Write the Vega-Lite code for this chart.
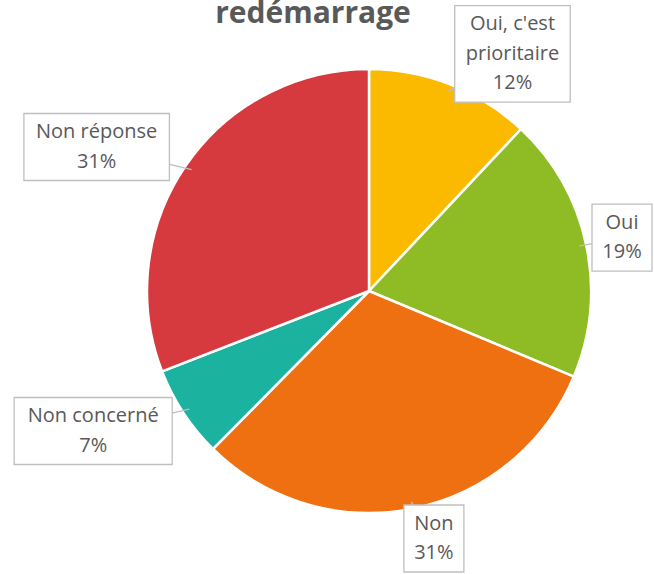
{
  "$schema": "https://vega.github.io/schema/vega-lite/v6.json",
  "width": 654,
  "height": 574,
  "autosize": "none",
  "padding": 0,
  "title": {
    "text": "redémarrage",
    "font": "Open Sans",
    "fontSize": 30,
    "fontWeight": "bold",
    "color": "#595959",
    "anchor": "middle",
    "frame": "group",
    "baseline": "alphabetic",
    "offset": -25,
    "dy": 28,
    "dx": -14
  },
  "data": {
    "values": [
      {"o": 1, "cat": "Oui, c'est prioritaire", "value": 12.0},
      {"o": 2, "cat": "Oui", "value": 19.3},
      {"o": 3, "cat": "Non", "value": 31.1},
      {"o": 4, "cat": "Non concerné", "value": 6.7},
      {"o": 5, "cat": "Non réponse", "value": 30.9}
    ]
  },
  "transform": [
    {"window": [{"op": "sum", "field": "value", "as": "cum"}], "sort": [{"field": "o"}], "frame": [null, 0]},
    {"calculate": "(datum.cum - datum.value / 2) / 100 * 2 * PI", "as": "mid"},
    {"calculate": "replace(datum.cat, \"c'est \", \"c'est\\n\") + '\\n' + format(datum.value / 100, '.0%')", "as": "lbl"},
    {"calculate": "length(datum.cat) > 14 ? 8.6 : length(datum.cat)", "as": "nch"},
    {"calculate": "length(datum.cat) > 14 ? 3 : 2", "as": "nl"},
    {"calculate": "max(60, 12.5 * datum.nch + 8)", "as": "bw"},
    {"calculate": "29.5 * datum.nl + 8", "as": "bh"},
    {"calculate": "clamp(330 * sin(datum.mid) + (datum.o == 1 ? 22 : 0), -367 + datum.bw / 2, 283 - datum.bw / 2)", "as": "lx"},
    {"calculate": "clamp(255 * cos(datum.mid), -281 + datum.bh / 2, 289 - datum.bh / 2)", "as": "ly"},
    {"calculate": "datum.ly + (datum.nl - 1) * 14.75", "as": "ty"},
    {"calculate": "215 * sin(datum.mid)", "as": "ex"},
    {"calculate": "215 * cos(datum.mid)", "as": "ey"},
    {"calculate": "datum.lx - datum.bw / 2", "as": "bx1"},
    {"calculate": "datum.lx + datum.bw / 2", "as": "bx2"},
    {"calculate": "datum.ly - datum.bh / 2", "as": "by1"},
    {"calculate": "datum.ly + datum.bh / 2", "as": "by2"}
  ],
  "layer": [
    {
      "mark": {"type": "arc", "outerRadius": 222, "stroke": "#ffffff", "strokeWidth": 2.5},
      "encoding": {
        "x": {"datum": 0, "type": "quantitative", "scale": {"domain": [-369, 285], "nice": false, "zero": false}, "axis": null},
        "y": {"datum": 0, "type": "quantitative", "scale": {"domain": [-283, 291], "nice": false, "zero": false}, "axis": null},
        "theta": {"field": "value", "type": "quantitative", "stack": true},
        "order": {"field": "o", "type": "quantitative"},
        "color": {
          "field": "cat",
          "type": "nominal",
          "scale": {
            "domain": ["Oui, c'est prioritaire", "Oui", "Non", "Non concerné", "Non réponse"],
            "range": ["#FBB900", "#8FBC25", "#EE7010", "#1BB29F", "#D63A3E"]
          },
          "legend": null
        }
      }
    },
    {
      "mark": {"type": "rule", "stroke": "#BFBFBF", "strokeWidth": 1.3},
      "encoding": {
        "x": {"field": "lx", "type": "quantitative"},
        "y": {"field": "ly", "type": "quantitative"},
        "x2": {"field": "ex"},
        "y2": {"field": "ey"}
      }
    },
    {
      "mark": {"type": "rect", "fill": "#ffffff", "stroke": "#BFBFBF", "strokeWidth": 1.3},
      "encoding": {
        "x": {"field": "bx1", "type": "quantitative"},
        "x2": {"field": "bx2"},
        "y": {"field": "by1", "type": "quantitative"},
        "y2": {"field": "by2"}
      }
    },
    {
      "mark": {"type": "text", "lineBreak": "\n", "font": "Open Sans", "fontSize": 20, "lineHeight": 29.5, "color": "#595959", "align": "center", "baseline": "middle"},
      "encoding": {
        "x": {"field": "lx", "type": "quantitative"},
        "y": {"field": "ty", "type": "quantitative"},
        "text": {"field": "lbl", "type": "nominal"}
      }
    }
  ],
  "config": {"view": {"stroke": null}}
}
